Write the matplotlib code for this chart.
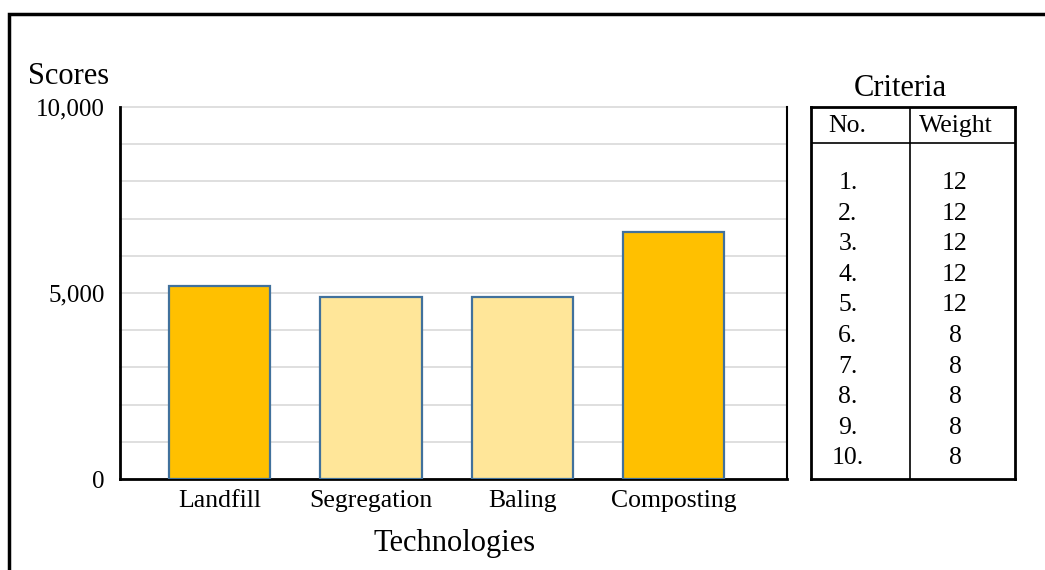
import matplotlib
matplotlib.use('Agg')
import matplotlib.pyplot as plt
from matplotlib.patches import Rectangle

technologies = ['Landfill', 'Segregation', 'Baling', 'Composting']
scores = [5180, 4890, 4890, 6640]
ytick_vals = [0, 1000, 2000, 3000, 4000, 5000, 6000, 7000, 8000, 9000, 10000]
ytick_text = ['0', '', '', '', '', '5,000', '', '', '', '', '10,000']
crit_no = ['1.', '2.', '3.', '4.', '5.', '6.', '7.', '8.', '9.', '10.']
crit_weight = [12, 12, 12, 12, 12, 8, 8, 8, 8, 8]

bar_colors = ['#FFC000', '#FFE699', '#FFE699', '#FFC000']

plt.rcParams['font.family'] = ['Liberation Serif', 'DejaVu Serif']

W, H = 1045, 570
fig = plt.figure(figsize=(W / 100, H / 100), dpi=100)

def box(l, t, r, b):
    return [l / W, 1 - b / H, (r - l) / W, (b - t) / H]

# chart
ax = fig.add_axes(box(120, 107, 787, 479))
ax.bar(range(len(technologies)), scores, width=0.67, color=bar_colors,
       edgecolor='#41719C', linewidth=1.6, zorder=3)
ax.set_xlim(-0.66, 3.75)
ax.set_ylim(0, 10000)
ax.set_yticks(ytick_vals)
ax.set_yticklabels(ytick_text, fontsize=18)
ax.set_xticks(range(len(technologies)))
ax.set_xticklabels(technologies, fontsize=18.5)
ax.tick_params(axis='both', length=0)
ax.tick_params(axis='y', pad=11)
ax.tick_params(axis='x', pad=8)
ax.grid(axis='y', color='#D9D9D9', linewidth=1.2, zorder=0)
for ln in ax.get_ygridlines():
    ln.set_clip_on(False)
ax.spines['top'].set_visible(False)
ax.spines['left'].set_linewidth(2)
ax.spines['bottom'].set_linewidth(2)
ax.spines['right'].set_linewidth(1.5)
for s in ['left', 'bottom', 'right']:
    ax.spines[s].set_color('black')

fig.text(28 / W, 1 - 76 / H, 'Scores', fontsize=22, ha='left', va='center')
fig.text(455 / W, 1 - 544 / H, 'Technologies', fontsize=22, ha='center', va='center')

# criteria table
tb = fig.add_axes(box(811, 107, 1015, 479))
row_px = 30.6
top_u = -(183 - 107) / row_px
bot_u = (479 - 183) / row_px
tb.set_xlim(0, 1)
tb.set_ylim(bot_u, top_u)
tb.set_xticks([])
tb.set_yticks([])
for s in tb.spines.values():
    s.set_linewidth(2)
    s.set_color('black')
div_x = (910 - 811) / (1015 - 811)
tb.axvline(div_x, color='black', linewidth=1.2)
tb.axhline((143 - 183) / row_px, color='black', linewidth=1.2)
hy = (126 - 183) / row_px
tb.text((847 - 811) / 204, hy, 'No.', fontsize=18.5, ha='center', va='center')
tb.text((956 - 811) / 204, hy, 'Weight', fontsize=18.5, ha='center', va='center')
for i, (n, w) in enumerate(zip(crit_no, crit_weight)):
    tb.text((848 - 811) / 204, i, n, fontsize=18.5, ha='center', va='center')
    tb.text((955 - 811) / 204, i, str(w), fontsize=18.5, ha='center', va='center')
fig.text(900 / W, 1 - 88 / H, 'Criteria', fontsize=22, ha='center', va='center')

# outer frame (cropped at right/bottom)
fig.patches.append(Rectangle((9 / W, -0.1), 1.2, (H - 14) / H + 0.1,
                             transform=fig.transFigure, fill=False,
                             edgecolor='black', linewidth=2.5))

fig.savefig('out.png', dpi=100)
